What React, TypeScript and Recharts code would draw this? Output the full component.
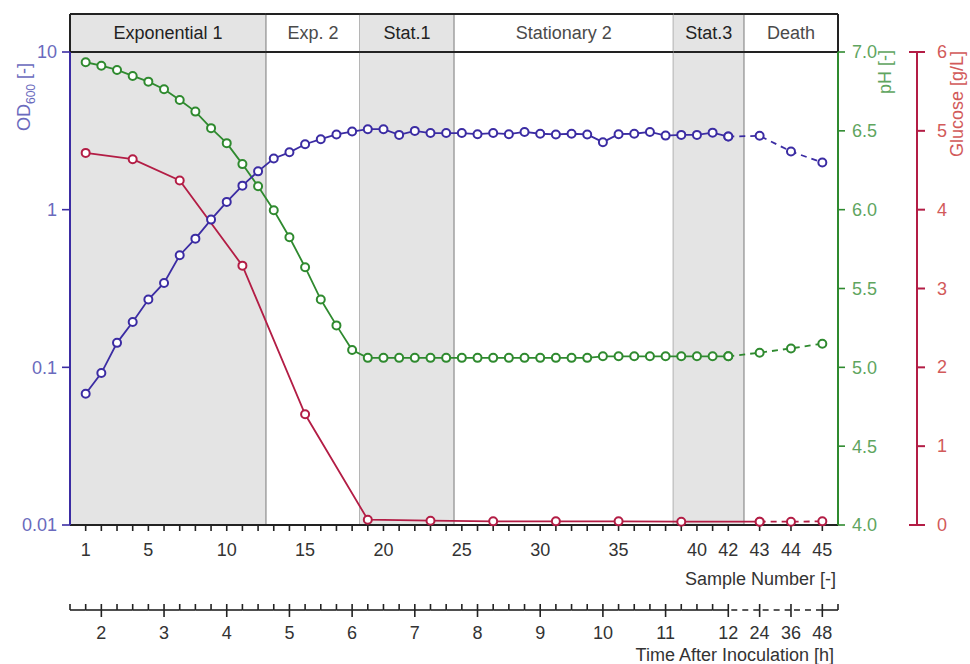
import { ComposedChart, Line, XAxis, YAxis, ReferenceArea } from "recharts";

const sampleNumbers = [
  1, 2, 3, 4, 5, 6, 7, 8, 9, 10, 11, 12, 13, 14, 15, 16, 17, 18, 19, 20, 21, 22, 23,
  24, 25, 26, 27, 28, 29, 30, 31, 32, 33, 34, 35, 36, 37, 38, 39, 40, 41, 42, 43, 44, 45,
];
const od600 = [
  0.068, 0.092, 0.143, 0.194, 0.269, 0.343, 0.514, 0.655, 0.865, 1.12, 1.42, 1.75, 2.11,
  2.31, 2.6, 2.8, 3.0, 3.13, 3.24, 3.24, 2.98, 3.16, 3.06, 3.06, 3.06, 3.01, 3.06, 3.01,
  3.11, 3.03, 3.0, 3.03, 3.0, 2.68, 3.01, 3.03, 3.11, 2.95, 2.98, 2.98, 3.08, 2.91, 2.94,
  2.34, 1.99,
];
const phValues = [
  6.935, 6.913, 6.886, 6.848, 6.812, 6.764, 6.696, 6.622, 6.517, 6.422, 6.289, 6.148,
  5.996, 5.825, 5.635, 5.43, 5.266, 5.11, 5.06, 5.06, 5.06, 5.06, 5.06, 5.06, 5.06, 5.06,
  5.06, 5.06, 5.06, 5.06, 5.06, 5.06, 5.06, 5.07, 5.07, 5.07, 5.07, 5.07, 5.07, 5.07, 5.07,
  5.07, 5.093, 5.12, 5.15,
];
const glucoseSamples = [1, 4, 7, 11, 15, 19, 23, 27, 31, 35, 39, 43, 44, 45];
const glucose = [4.72, 4.64, 4.37, 3.29, 1.405, 0.067, 0.055, 0.046, 0.046, 0.046, 0.042, 0.042, 0.042, 0.046];

const sampleTickLabels = [1, 5, 10, 15, 20, 25, 30, 35, 40, 42, 43, 44, 45];
const timeTickLabels = [2, 3, 4, 5, 6, 7, 8, 9, 10, 11, 12, 24, 36, 48];
const odTicks = [0.01, 0.1, 1, 10];
const phTicks = [4, 4.5, 5, 5.5, 6, 6.5, 7];
const glucoseTicks = [0, 1, 2, 3, 4, 5, 6];

const phases = [
  { name: "Exponential 1", first: 1, last: 12, shaded: true },
  { name: "Exp. 2", first: 13, last: 18, shaded: false },
  { name: "Stat.1", first: 19, last: 24, shaded: true },
  { name: "Stationary 2", first: 25, last: 38, shaded: false },
  { name: "Stat.3", first: 39, last: 42, shaded: true },
  { name: "Death", first: 43, last: 45, shaded: false },
];

const BLUE = "#3b2ca3";
const BLUE_TXT = "#6a6abd";
const GREEN = "#2f8a2f";
const GREEN_TXT = "#5fa55f";
const RED = "#b31d45";
const RED_TXT = "#d25a5a";
const FONT = "'Liberation Sans', Arial, sans-serif";

const X_MAX = 49;
// samples after 42 are drawn on a compressed (broken) time scale
const slot = (s: number) => (s <= 42 ? s : 42 + (s - 42) * 2);
const timeSlot = (h: number) => (h <= 12 ? 4 * h - 6 : 42 + (h / 12 - 1) * 2);

const rows = sampleNumbers.map((s, i) => {
  const g = glucoseSamples.indexOf(s);
  return {
    pos: slot(s),
    od: s <= 42 ? od600[i] : null,
    odTail: s >= 42 ? od600[i] : null,
    ph: s <= 42 ? phValues[i] : null,
    phTail: s >= 42 ? phValues[i] : null,
    glc: g >= 0 && s <= 43 ? glucose[g] : null,
    glcTail: g >= 0 && s >= 43 ? glucose[g] : null,
  };
});

const bounds = [0];
for (let i = 0; i < phases.length - 1; i++) {
  bounds.push((slot(phases[i].last) + slot(phases[i + 1].first)) / 2);
}
bounds.push(X_MAX);

const timeAxisTicks: number[] = [];
for (let p = 0; p <= 42; p++) timeAxisTicks.push(p);
timeAxisTicks.push(44, 46, 48, 49);

const HEADER_H = 38;

const PhaseBand = (props: any) => {
  const { x, y, width, height, phase, isFirst, isLast } = props;
  const top = y - HEADER_H;
  return (
    <g>
      {phase.shaded && <rect x={x} y={top} width={width} height={height + HEADER_H} fill="#e4e4e4" />}
      {!isLast && (
        <line x1={x + width} x2={x + width} y1={top} y2={y + height} stroke="#a0a0a0" strokeWidth={1.5} />
      )}
      <line x1={x} x2={x + width} y1={top} y2={top} stroke="#222" strokeWidth={2} />
      <line x1={x} x2={x + width} y1={y} y2={y} stroke="#222" strokeWidth={2} />
      {isFirst && <line x1={x} x2={x} y1={top} y2={y} stroke="#222" strokeWidth={2} />}
      {isLast && <line x1={x + width} x2={x + width} y1={top} y2={y} stroke="#222" strokeWidth={2} />}
      <text
        x={x + width / 2}
        y={top + 25}
        textAnchor="middle"
        fontSize={18}
        fontFamily={FONT}
        fill={phase.shaded ? "#222" : "#4a4a4a"}
      >
        {phase.name}
      </text>
    </g>
  );
};

const SampleTick = (props: any) => {
  const { x, y, payload } = props;
  const s = sampleNumbers.find((n) => slot(n) === payload.value);
  if (s === undefined || !sampleTickLabels.includes(s)) return <g />;
  return (
    <text x={x} y={y + 23} textAnchor="middle" fontSize={18} fontFamily={FONT} fill="#333">
      {s}
    </text>
  );
};

const TimeTick = (props: any) => {
  const { x, y, payload, index, width } = props;
  const unit = (width || 768) / X_MAX;
  const lineY = y - 8;
  const v = payload.value;
  const next = timeAxisTicks[index + 1];
  const hi = timeTickLabels.findIndex((h) => timeSlot(h) === v);
  const dashed = v >= 42 && v < 48;
  return (
    <g>
      {next !== undefined && (
        <line
          x1={x + (dashed ? 3 : 0)}
          x2={x + (next - v) * unit}
          y1={lineY}
          y2={lineY}
          stroke="#222"
          strokeWidth={1.6}
          strokeDasharray={dashed ? "6 5" : undefined}
        />
      )}
      {hi >= 0 ? (
        <>
          <line x1={x} x2={x} y1={lineY - 6} y2={lineY + 7} stroke="#222" strokeWidth={1.6} />
          <text x={x} y={lineY + 29} textAnchor="middle" fontSize={18} fontFamily={FONT} fill="#333">
            {timeTickLabels[hi]}
          </text>
        </>
      ) : (
        <line x1={x} x2={x} y1={lineY - 6} y2={lineY} stroke="#222" strokeWidth={1.6} />
      )}
    </g>
  );
};

const GlucoseTick = (props: any) => {
  const { x, y, payload } = props;
  const lineX = x - 20;
  const cap = payload.value === 0 || payload.value === 6;
  return (
    <g>
      {cap && <line x1={lineX - 8} x2={lineX} y1={y} y2={y} stroke={RED} strokeWidth={2} />}
      <text x={x} y={y + 6} textAnchor="start" fontSize={18} fontFamily={FONT} fill={RED_TXT}>
        {payload.value}
      </text>
    </g>
  );
};

const OdTitle = (props: any) => {
  const vb = props.viewBox;
  return (
    <text
      transform={`translate(${vb.x + 30},${vb.y + 11}) rotate(-90)`}
      textAnchor="end"
      fontSize={18}
      fontFamily={FONT}
      fill={BLUE_TXT}
    >
      OD
      <tspan fontSize={12} dy={5}>
        600
      </tspan>
      <tspan dy={-5}> [-]</tspan>
    </text>
  );
};

const PhTitle = (props: any) => {
  const vb = props.viewBox;
  return (
    <text
      transform={`translate(${vb.x + 53},${vb.y - 2}) rotate(-90)`}
      textAnchor="end"
      fontSize={18}
      fontFamily={FONT}
      fill={GREEN_TXT}
    >
      pH [-]
    </text>
  );
};

const GlucoseTitle = (props: any) => {
  const vb = props.viewBox;
  return (
    <text
      transform={`translate(${vb.x + 46},${vb.y - 1}) rotate(-90)`}
      textAnchor="end"
      fontSize={18}
      fontFamily={FONT}
      fill={RED_TXT}
    >
      Glucose [g/L]
    </text>
  );
};

const SampleTitle = (props: any) => {
  const vb = props.viewBox;
  return (
    <text x={vb.x + vb.width - 2} y={vb.y + 60} textAnchor="end" fontSize={18} fontFamily={FONT} fill="#333">
      Sample Number [-]
    </text>
  );
};

const TimeTitle = (props: any) => {
  const vb = props.viewBox;
  return (
    <text x={vb.x + vb.width - 4} y={vb.y + 51} textAnchor="end" fontSize={18} fontFamily={FONT} fill="#333">
      Time After Inoculation [h]
    </text>
  );
};

const dot = (color: string) => ({
  r: 4,
  fill: "#fff",
  stroke: color,
  strokeWidth: 2,
  strokeDasharray: "none",
});

const App = () => {
  return (
    <div style={{ position: "absolute", left: 0, top: 0, fontFamily: FONT, background: "#fff" }}>
      <ComposedChart width={970} height={664} data={rows} margin={{ top: 52, right: 0, bottom: 0, left: 0 }}>
        {phases.map((p, i) => (
          <ReferenceArea
            key={p.name}
            xAxisId="sample"
            yAxisId="od"
            x1={bounds[i]}
            x2={bounds[i + 1]}
            shape={(r: any) => (
              <PhaseBand {...r} phase={p} isFirst={i === 0} isLast={i === phases.length - 1} />
            )}
          />
        ))}
        <XAxis
          xAxisId="sample"
          dataKey="pos"
          type="number"
          domain={[0, X_MAX]}
          allowDataOverflow
          ticks={sampleNumbers.map(slot)}
          interval={0}
          height={85}
          axisLine={{ stroke: "#222", strokeWidth: 2 }}
          tickLine={{ stroke: "#222", strokeWidth: 1.6 }}
          tickSize={6}
          tickMargin={2}
          tick={<SampleTick />}
          label={<SampleTitle />}
        />
        <XAxis
          xAxisId="time"
          dataKey="pos"
          type="number"
          domain={[0, X_MAX]}
          allowDataOverflow
          ticks={timeAxisTicks}
          interval={0}
          height={54}
          axisLine={false}
          tickLine={false}
          tickSize={6}
          tickMargin={2}
          tick={<TimeTick />}
          label={<TimeTitle />}
        />
        <YAxis
          yAxisId="od"
          orientation="left"
          scale="log"
          type="number"
          domain={[0.01, 10]}
          allowDataOverflow
          ticks={odTicks}
          interval={0}
          width={70}
          tickFormatter={(v: number) => String(v)}
          axisLine={{ stroke: BLUE, strokeWidth: 2 }}
          tickLine={{ stroke: BLUE, strokeWidth: 1.6 }}
          tickSize={8}
          tickMargin={5}
          tick={{ fontSize: 18, fill: BLUE_TXT, fontFamily: FONT }}
          label={<OdTitle />}
        />
        <YAxis
          yAxisId="b_glc"
          orientation="right"
          type="number"
          domain={[0, 6]}
          ticks={glucoseTicks}
          interval={0}
          width={53}
          axisLine={{ stroke: RED, strokeWidth: 2 }}
          tickLine={{ stroke: RED, strokeWidth: 2 }}
          tickSize={8}
          tickMargin={12}
          tick={<GlucoseTick />}
          label={<GlucoseTitle />}
        />
        <YAxis
          yAxisId="a_ph"
          orientation="right"
          type="number"
          domain={[4, 7]}
          ticks={phTicks}
          interval={0}
          width={79}
          tickFormatter={(v: number) => v.toFixed(1)}
          axisLine={{ stroke: GREEN, strokeWidth: 2 }}
          tickLine={{ stroke: GREEN, strokeWidth: 1.6 }}
          tickSize={7}
          tickMargin={7}
          tick={{ fontSize: 18, fill: GREEN_TXT, fontFamily: FONT }}
          label={<PhTitle />}
        />
        <Line
          xAxisId="sample"
          yAxisId="b_glc"
          dataKey="glc"
          stroke={RED}
          strokeWidth={1.8}
          dot={dot(RED)}
          connectNulls
          isAnimationActive={false}
        />
        <Line
          xAxisId="sample"
          yAxisId="b_glc"
          dataKey="glcTail"
          stroke={RED}
          strokeWidth={1.8}
          strokeDasharray="6 5"
          dot={dot(RED)}
          connectNulls
          isAnimationActive={false}
        />
        <Line
          xAxisId="sample"
          yAxisId="a_ph"
          dataKey="ph"
          stroke={GREEN}
          strokeWidth={1.8}
          dot={dot(GREEN)}
          isAnimationActive={false}
        />
        <Line
          xAxisId="sample"
          yAxisId="a_ph"
          dataKey="phTail"
          stroke={GREEN}
          strokeWidth={1.8}
          strokeDasharray="6 5"
          dot={dot(GREEN)}
          isAnimationActive={false}
        />
        <Line
          xAxisId="sample"
          yAxisId="od"
          dataKey="od"
          stroke={BLUE}
          strokeWidth={1.8}
          dot={dot(BLUE)}
          isAnimationActive={false}
        />
        <Line
          xAxisId="sample"
          yAxisId="od"
          dataKey="odTail"
          stroke={BLUE}
          strokeWidth={1.8}
          strokeDasharray="6 5"
          dot={dot(BLUE)}
          isAnimationActive={false}
        />
      </ComposedChart>
    </div>
  );
};

export default App;
